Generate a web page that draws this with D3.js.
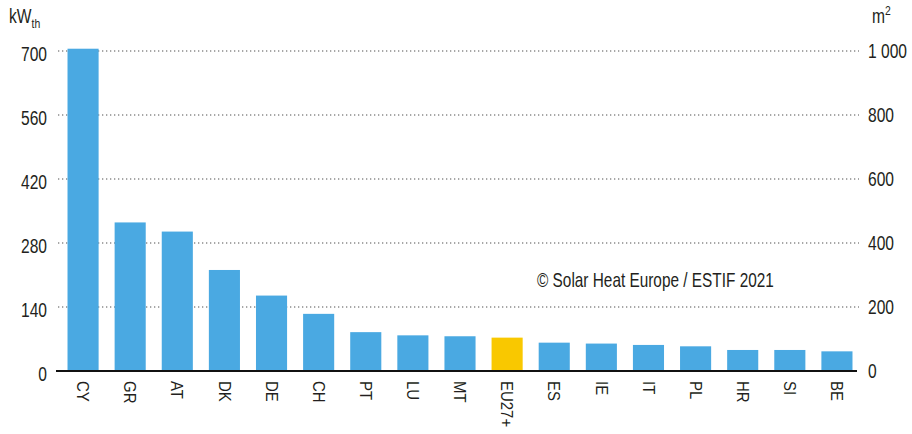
<!DOCTYPE html>
<html><head><meta charset="utf-8">
<script src="https://cdn.jsdelivr.net/npm/d3@7"></script>
<style>
body{margin:0;background:#fff;}
text{font-family:"Liberation Sans",Arial,sans-serif;fill:#231f20;}
</style></head>
<body><svg id="c" width="912" height="434"></svg>
<script>
const categories = ["CY","GR","AT","DK","DE","CH","PT","LU","MT","EU27+","ES","IE","IT","PL","HR","SI","BE"];
const values = [705,325,305,221,165,125,85,78,76,73,62,60,57,54,46,46,43];
const highlight = ["EU27+"];
const leftTicks = [0,140,280,420,560,700];
const rightTicks = [0,200,400,600,800,1000];
const rightTickLabels = ["0","200","400","600","800","1 000"];
const sourceText = "© Solar Heat Europe / ESTIF 2021";

const SX = 0.8; // condensed look
const svg = d3.select("#c");
const y = d3.scaleLinear().domain([0,700]).range([371,51]);
const y2 = d3.scaleLinear().domain([0,1000]).range([371,51]);
const x = d3.scaleBand().domain(categories).range([59.5,860.5]).paddingInner(0.34).paddingOuter(0.17);

// gridlines
svg.append("g").selectAll("line").data(leftTicks.slice(1)).join("line")
  .attr("x1",58).attr("x2",859).attr("y1",d=>y(d)).attr("y2",d=>y(d))
  .attr("stroke","#8a8a8a").attr("stroke-width",1.5).attr("stroke-dasharray","1.3,2.7");

// bars
svg.append("g").selectAll("rect").data(categories).join("rect")
  .attr("x",d=>x(d)).attr("width",x.bandwidth())
  .attr("y",(d,i)=>y(values[i])).attr("height",(d,i)=>y(0)-y(values[i]))
  .attr("fill",d=>highlight.includes(d)?"#f9c800":"#4aa9e2");

// baseline
svg.append("line").attr("x1",56).attr("x2",857).attr("y1",y(0)).attr("y2",y(0))
  .attr("stroke","#111").attr("stroke-width",2.2);

// left axis
const la = svg.append("g").attr("transform","translate(47,3)")
  .call(d3.axisLeft(y).tickValues(leftTicks).tickSize(0).tickPadding(0));
la.select(".domain").remove();
la.attr("font-family",null).attr("font-size",null);
la.selectAll("text").attr("font-size",19.5).attr("fill","#231f20").attr("x",0)
  .attr("transform",`scale(${SX},1)`);

// right axis
const ra = svg.append("g").attr("transform","translate(868,0)")
  .call(d3.axisRight(y2).tickValues(rightTicks).tickFormat((d,i)=>rightTickLabels[i]).tickSize(0).tickPadding(0));
ra.select(".domain").remove();
ra.attr("font-family",null).attr("font-size",null);
ra.selectAll("text").attr("font-size",19.5).attr("fill","#231f20").attr("x",0)
  .attr("transform",`scale(${SX},1)`);

// x labels
const xa = svg.append("g").attr("transform",`translate(0,${y(0)})`)
  .call(d3.axisBottom(x).tickSize(0).tickPadding(0));
xa.select(".domain").remove();
xa.attr("font-family",null).attr("font-size",null);
xa.selectAll("text").attr("font-size",17).attr("fill","#231f20")
  .attr("text-anchor","start").attr("dy",null).attr("y",0)
  .attr("dominant-baseline","central")
  .attr("transform","translate(0,10) rotate(90) scale(0.88,1)");

// unit labels
const u1 = svg.append("text").attr("transform",`translate(9,23) scale(${SX},1)`).attr("font-size",19.5);
u1.append("tspan").text("kW");
u1.append("tspan").attr("font-size",13).attr("dy",5).text("th");
const u2 = svg.append("text").attr("transform",`translate(872,23) scale(${SX},1)`).attr("font-size",19.5);
u2.append("tspan").text("m");
u2.append("tspan").attr("font-size",13).attr("dy",-8).text("2");

// source
svg.append("text").attr("transform","translate(537,287) scale(0.75,1)").attr("font-size",20.5).text(sourceText);
</script></body></html>
